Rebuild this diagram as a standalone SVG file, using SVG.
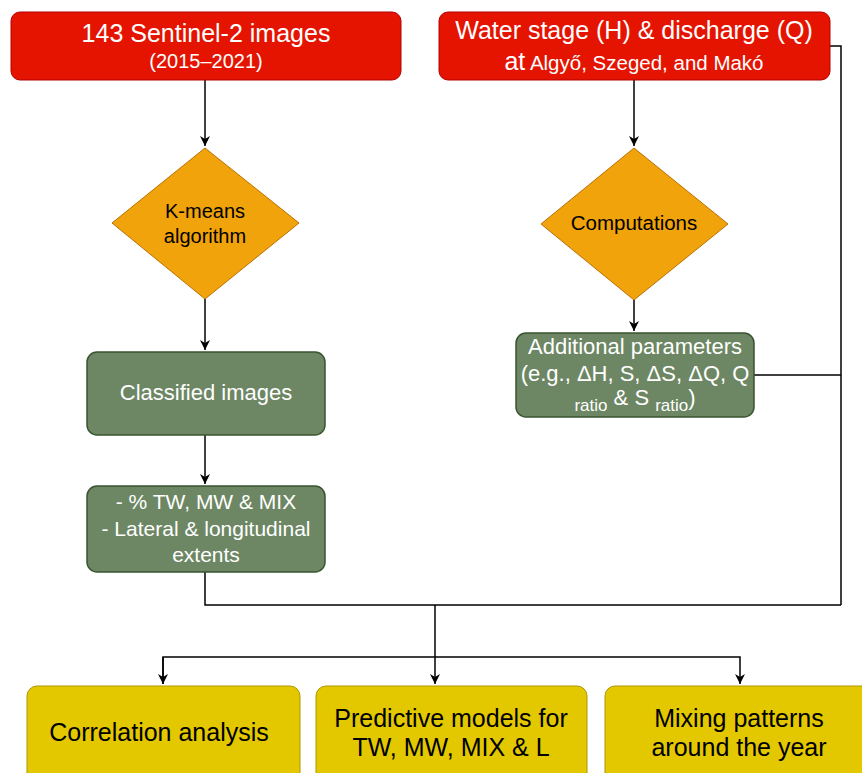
<svg xmlns="http://www.w3.org/2000/svg" width="862" height="773" viewBox="0 0 862 773">
<defs>
<marker id="arr" markerWidth="12" markerHeight="12" refX="10" refY="5" orient="auto" markerUnits="userSpaceOnUse">
<path d="M0,0 L10,5 L0,10 L3,5 Z" fill="#000"/>
</marker>
<style>
text{font-family:"Liberation Sans",Arial,sans-serif;text-anchor:middle}
.red{fill:#e51400;stroke:#b20000;stroke-width:1}
.org{fill:#f0a30a;stroke:#bd7000;stroke-width:1}
.grn{fill:#6d8764;stroke:#3a5431;stroke-width:1.5}
.yel{fill:#e3c800;stroke:#b09500;stroke-width:1}
.w{fill:#fff}
.k{fill:#000}
.ln{fill:none;stroke:#000;stroke-width:1.5}
</style>
</defs>
<rect width="862" height="773" fill="#fff"/>
<g id="connectors">
<path class="ln" d="M205,80 V146" marker-end="url(#arr)"/>
<path class="ln" d="M205,299 V350" marker-end="url(#arr)"/>
<path class="ln" d="M205,435 V484" marker-end="url(#arr)"/>
<path class="ln" d="M634,80 V146" marker-end="url(#arr)"/>
<path class="ln" d="M634,300 V331" marker-end="url(#arr)"/>
<path class="ln" d="M830,46 H841 V605"/>
<path class="ln" d="M754,375 H841"/>
<path class="ln" d="M205,572 V605 H841"/>
<path class="ln" d="M435,605 V684" marker-end="url(#arr)"/>
<path class="ln" d="M163,684 V657 H740 V684" marker-end="url(#arr)"/>
<path class="ln" d="M163,657 V684" marker-end="url(#arr)"/>
</g>
<g id="sentinel">
<rect class="red" x="11" y="12" width="390" height="68" rx="9"/>
<text class="w" x="206" y="42" font-size="25">143 Sentinel-2 images</text>
<text class="w" x="206" y="68" font-size="20">(2015–2021)</text>
</g>
<g id="water">
<rect class="red" x="439" y="12" width="391" height="68" rx="9"/>
<text class="w" x="634" y="39" font-size="25">Water stage (H) &amp; discharge (Q)</text>
<text class="w" x="634" y="70" font-size="20.5"><tspan font-size="25">at</tspan> Algyő, Szeged, and Makó</text>
</g>
<g id="kmeans">
<polygon class="org" points="205,148 299,223 205,299 112,223"/>
<text class="k" x="205" y="218" font-size="20">K-means</text>
<text class="k" x="205" y="243" font-size="20">algorithm</text>
</g>
<g id="computations">
<polygon class="org" points="634,148 728,224 634,300 541,224"/>
<text class="k" x="634" y="230" font-size="20.5">Computations</text>
</g>
<g id="classified">
<rect class="grn" x="87" y="352" width="238" height="83" rx="10"/>
<text class="w" x="206" y="400" font-size="22">Classified images</text>
</g>
<g id="additional">
<rect class="grn" x="516" y="333" width="238" height="84" rx="10"/>
<text class="w" x="635" y="354" font-size="22">Additional parameters</text>
<text class="w" x="635" y="381" font-size="22">(e.g., ΔH, S, ΔS, ΔQ, Q</text>
<text class="w" x="635" y="405" font-size="22"><tspan font-size="17" dy="6">ratio</tspan><tspan dy="-6"> &amp; S </tspan><tspan font-size="17" dy="6">ratio</tspan><tspan dy="-6">)</tspan></text>
</g>
<g id="metrics">
<rect class="grn" x="87" y="486" width="238" height="86" rx="10"/>
<text class="w" x="206" y="509" font-size="21">- % TW, MW &amp; MIX</text>
<text class="w" x="206" y="536" font-size="21">- Lateral &amp; longitudinal</text>
<text class="w" x="206" y="562" font-size="21">extents</text>
</g>
<g id="correlation">
<rect class="yel" x="27" y="686" width="273" height="100" rx="10"/>
<text class="k" x="159" y="741" font-size="25">Correlation analysis</text>
</g>
<g id="predictive">
<rect class="yel" x="316" y="686" width="271" height="100" rx="10"/>
<text class="k" x="451" y="727" font-size="25">Predictive models for</text>
<text class="k" x="451" y="756" font-size="25">TW, MW, MIX &amp; L</text>
</g>
<g id="mixing">
<rect class="yel" x="605" y="686" width="270" height="100" rx="10"/>
<text class="k" x="739" y="727" font-size="25">Mixing patterns</text>
<text class="k" x="739" y="756" font-size="25">around the year</text>
</g>
</svg>
